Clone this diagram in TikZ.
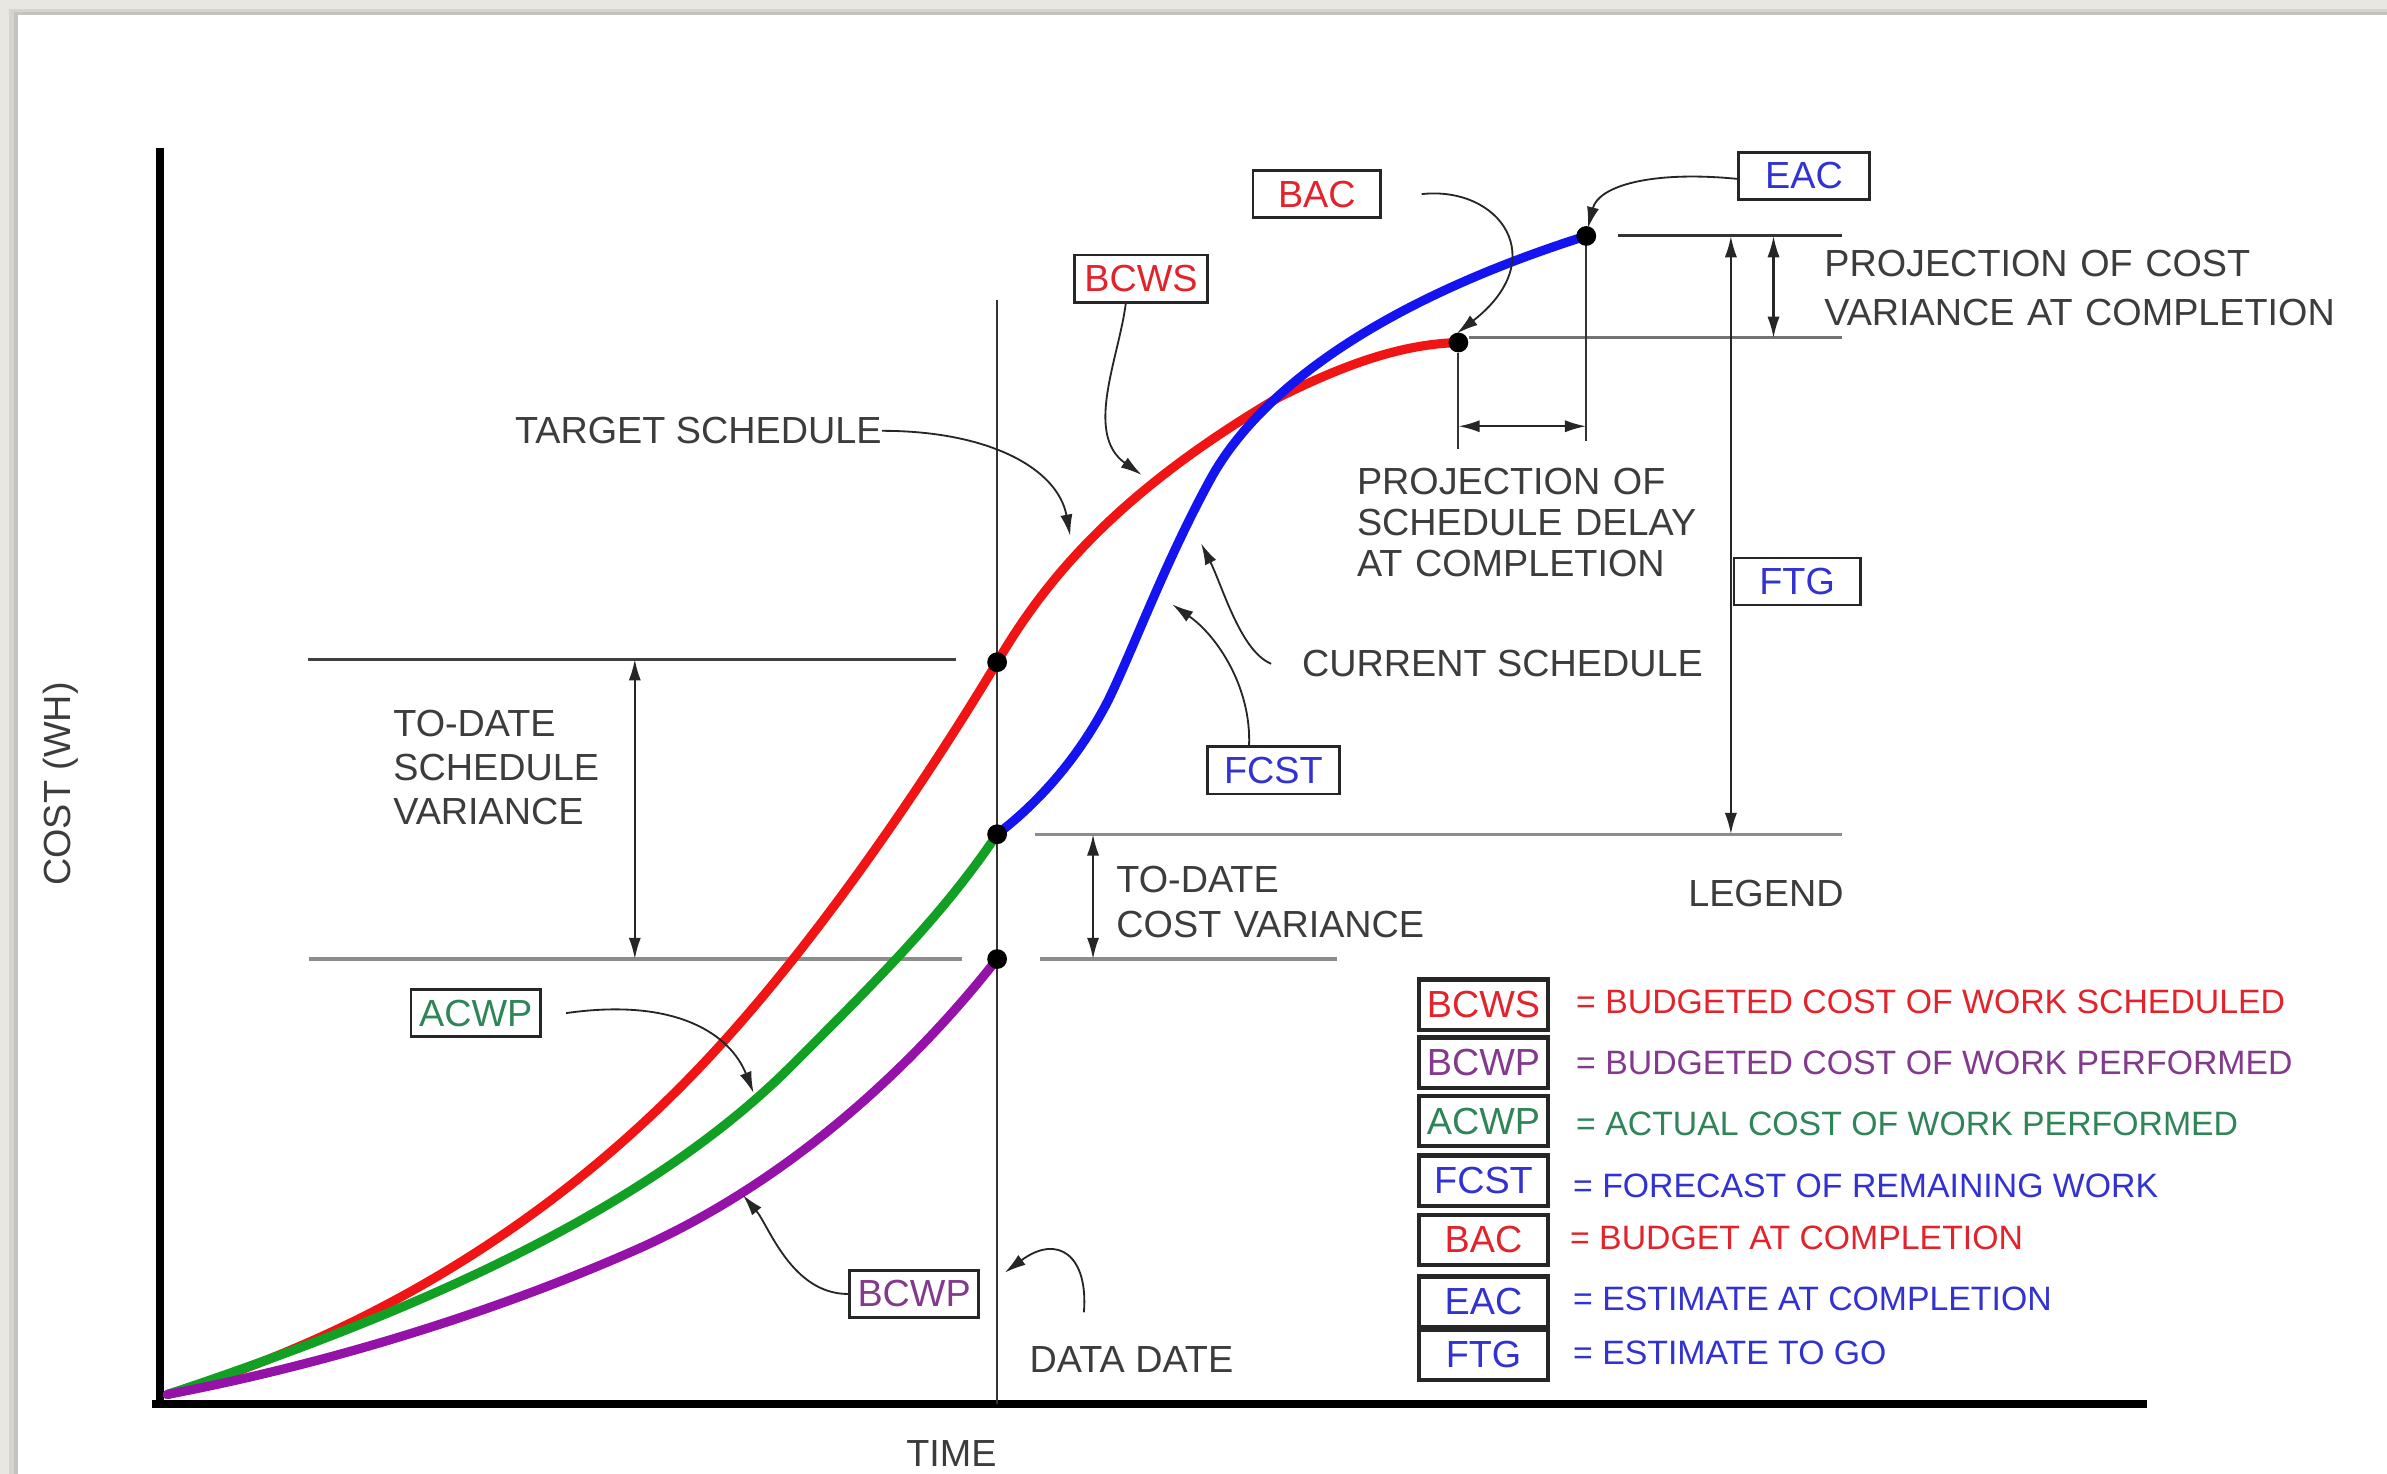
\documentclass[tikz,border=0pt]{standalone}
\usepackage{fontspec}
\newfontfamily\arial{Liberation Sans}
\usetikzlibrary{arrows.meta,calc}
\definecolor{txtgray}{HTML}{3C3C3C}
\definecolor{bggray}{HTML}{E9E7E2}
\definecolor{cred}{HTML}{F01414}
\definecolor{cblue}{HTML}{1414F0}
\definecolor{cgreen}{HTML}{12A024}
\definecolor{cpurple}{HTML}{9412A8}
\definecolor{tred}{HTML}{E2232B}
\definecolor{tblue}{HTML}{3232D2}
\definecolor{tgreen}{HTML}{2F8558}
\definecolor{tpurple}{HTML}{833A8C}
\newcommand\chartfs{\fontsize{12.4}{14.5}\selectfont}
\newcommand\legfs{\fontsize{11.1}{13}\selectfont}
\begin{document}
\begin{tikzpicture}[x=0.5pt,y=-0.5pt,
  txt/.style={font=\arial\chartfs, text=txtgray, inner sep=0pt},
  legtxt/.style={font=\arial\legfs, inner sep=0pt, anchor=west},
  tag/.style={draw=black!85, line width=0.9pt, font=\arial\chartfs, minimum height=15.5pt, inner sep=0pt, fill=white},
  legbox/.style={draw=black!85, line width=1.4pt, font=\arial\chartfs, minimum width=42.5pt, minimum height=16.5pt, inner sep=0pt, fill=white},
  curve/.style={line width=3pt, line cap=round, line join=round},
  thinline/.style={line width=0.7pt, draw=black!80},
  grayline/.style={line width=1.1pt, draw=black!45},
  ptr/.style={line width=0.6pt, draw=black!85, -{Latex[length=7pt,width=4pt]}},
  dim/.style={line width=0.7pt, draw=black!85, {Latex[length=7pt,width=4pt]}-{Latex[length=7pt,width=4pt]}},
  dot/.style={circle, fill=black, inner sep=0pt, minimum size=6.5pt}
]
\useasboundingbox (0,0) rectangle (1568,968);
% background panel
\fill[bggray] (0,0) rectangle (1568,968);
\fill[black, opacity=0.08] (6,6) rectangle (1568,968);
\fill[black, opacity=0.08] (9,8) rectangle (1568,968);
\fill[white] (12,10) rectangle (1568,968);

% axes
\coordinate (ytop) at (105,97);
\coordinate (O) at (105,922);
\coordinate (xend) at (1410,922);
\draw[line width=2.6pt] (ytop) -- ($(O)+(0,2.5)$);
\draw[line width=2.6pt] ($(O)+(-5,0)$) -- (xend);
\node[txt, rotate=90] (costlbl) at (40,515) {COST (WH)};
\node[txt] (timelbl) at (625,955) {TIME};

% data date line
\coordinate (ddtop) at (655,197);
\coordinate (ddbot) at (655,922);
\draw[thinline] (ddtop) -- (ddbot);

% horizontal reference lines
\coordinate (l1a) at (202,433); \coordinate (l1b) at (628,433);
\coordinate (l2a) at (203,630); \coordinate (l2b) at (632,630);
\coordinate (l3a) at (680,548); \coordinate (l3b) at (1210,548);
\coordinate (l4a) at (683,630); \coordinate (l4b) at (878,630);
\coordinate (l5a) at (1063,155); \coordinate (l5b) at (1210,155);
\coordinate (l6a) at (965,222); \coordinate (l6b) at (1210,222);
\draw[line width=1pt, draw=black!75] (l1a) -- (l1b);
\draw[grayline] (l2a) -- (l2b);
\draw[grayline] (l3a) -- (l3b);
\draw[grayline] (l4a) -- (l4b);
\draw[line width=1pt, draw=black!80] (l5a) -- (l5b);
\draw[line width=1pt, draw=black!55] (l6a) -- (l6b);
\coordinate (v1a) at (958,232); \coordinate (v1b) at (958,295);
\coordinate (v2a) at (1042,160); \coordinate (v2b) at (1042,290);
\draw[thinline] (v1a) -- (v1b);
\draw[thinline] (v2a) -- (v2b);

% dimension arrows
\coordinate (d1a) at (417,433); \coordinate (d1b) at (417,630);
\coordinate (d2a) at (718,548); \coordinate (d2b) at (718,630);
\coordinate (d3a) at (1165,155); \coordinate (d3b) at (1165,222);
\coordinate (d4a) at (1137,155); \coordinate (d4b) at (1137,548);
\coordinate (d5a) at (958,280); \coordinate (d5b) at (1042,280);
\draw[dim] (d1a) -- (d1b);
\draw[dim] (d2a) -- (d2b);
\draw[dim] (d3a) -- (d3b);
\draw[dim] (d4a) -- (d4b);
\draw[dim] (d5a) -- (d5b);

% curve points
\coordinate (start) at (110,916);
\coordinate (cBCWS) at (655,435);
\coordinate (cACWP) at (655,548);
\coordinate (cBCWP) at (655,630);
\coordinate (cBAC) at (958,225);
\coordinate (cEAC) at (1042,155);

% curves
\draw[curve, cred] (start) .. controls (230,880) and (360,810) .. (470,690)
  .. controls (540,614) and (610,510) .. (cBCWS)
  .. controls (690,375) and (740,320) .. (840,261)
  .. controls (890,236) and (925,226) .. (cBAC);
\draw[curve, cgreen] (start) .. controls (260,866) and (420,800) .. (520,700)
  .. controls (580,640) and (620,600) .. (cACWP);
\draw[curve, cpurple] (start) .. controls (220,895) and (330,860) .. (420,820)
  .. controls (520,775) and (600,700) .. (cBCWP);
\draw[curve, cblue] (cACWP) .. controls (685,525) and (710,495) .. (728,460)
  .. controls (745,425) and (765,370) .. (795,315)
  .. controls (825,260) and (900,200) .. (cEAC);

% dots
\node[dot] (pBCWS) at (cBCWS) {};
\node[dot] (pACWP) at (cACWP) {};
\node[dot] (pBCWP) at (cBCWP) {};
\node[dot] (pBAC) at (cBAC) {};
\node[dot] (pEAC) at (cEAC) {};

% text labels
\node[txt, anchor=west] (target) at (338,283) {TARGET SCHEDULE};
\node[txt, anchor=west, align=left, text width=80pt] (sv) at (258,504) {TO-DATE\\SCHEDULE\\VARIANCE};
\node[txt, anchor=west, align=left, text width=110pt] (cv) at (733,592.5) {TO-DATE\\COST VARIANCE};
\node[txt, anchor=west, align=left, text width=200pt, font=\arial\fontsize{12.4}{16}\selectfont] (pcv) at (1198,189) {PROJECTION OF COST\\VARIANCE AT COMPLETION};
\node[txt, anchor=west, align=left, text width=130pt, font=\arial\fontsize{12.4}{13.5}\selectfont] (psd) at (891,343) {PROJECTION OF\\SCHEDULE DELAY\\AT COMPLETION};
\node[txt, anchor=west] (cur) at (855,436) {CURRENT SCHEDULE};
\node[txt, anchor=west] (ddate) at (676,893) {DATA DATE};
\node[txt] (legend) at (1160,587) {LEGEND};

% tags in chart
\node[tag, minimum width=42pt, text=tred] (tBAC) at (865,127.5) {BAC};
\node[tag, minimum width=43pt, text=tblue] (tEAC) at (1185,115.5) {EAC};
\node[tag, minimum width=43.5pt, text=tred] (tBCWS) at (749.5,183) {BCWS};
\node[tag, minimum width=41.5pt, text=tblue] (tFTG) at (1180.5,382) {FTG};
\node[tag, minimum width=43.5pt, text=tblue] (tFCST) at (836.5,506) {FCST};
\node[tag, minimum width=42.5pt, text=tgreen] (tACWP) at (312.5,665.5) {ACWP};
\node[tag, minimum width=42.5pt, text=tpurple] (tBCWP) at (600.5,850) {BCWP};

% pointer targets
\coordinate (aTarget) at (703,352);
\coordinate (aBCWS) at (750,312);
\coordinate (aBAC) at (957,219);
\coordinate (aEAC) at (1043,150);
\coordinate (aCur) at (789,357);
\coordinate (aFCST) at (770,397);
\coordinate (aACWP) at (495,718);
\coordinate (aBCWP) at (488,785);
\coordinate (aDD) at (660,836);
\coordinate (sDD) at (712,862);

% pointers
\draw[ptr] (target.east) .. controls (650,283) and (695,308) .. (aTarget);
\draw[ptr] ([xshift=-5]tBCWS.south) .. controls (735,235) and (712,285) .. (aBCWS);
\draw[ptr] ([xshift=13]tBAC.east) .. controls (985,122) and (1020,170) .. (aBAC);
\draw[ptr] ([yshift=-1]tEAC.west) .. controls (1085,112) and (1050,122) .. (aEAC);
\draw[ptr] ([xshift=-10]cur.west) .. controls (815,428) and (803,385) .. (aCur);
\draw[ptr] ([xshift=-8]tFCST.north) .. controls (822,452) and (800,418) .. (aFCST);
\draw[ptr] ([xshift=8]tACWP.east) .. controls (445,655) and (480,680) .. (aACWP);
\draw[ptr] (tBCWP.west) .. controls (520,850) and (505,805) .. (aBCWP);
\draw[ptr] (sDD) .. controls (715,825) and (695,810) .. (aDD);

% legend
\node[legbox, text=tred] (lBCWS) at (974.5,660) {BCWS};
\node[legbox, text=tpurple] (lBCWP) at (974.5,698) {BCWP};
\node[legbox, text=tgreen] (lACWP) at (974.5,736.5) {ACWP};
\node[legbox, text=tblue] (lFCST) at (974.5,775.5) {FCST};
\node[legbox, text=tred] (lBAC) at (974.5,814.5) {BAC};
\node[legbox, text=tblue] (lEAC) at (974.5,855) {EAC};
\node[legbox, text=tblue] (lFTG) at (974.5,890) {FTG};
\node[legtxt, text=tred] (dBCWS) at (1035,658) {= BUDGETED COST OF WORK SCHEDULED};
\node[legtxt, text=tpurple] (dBCWP) at (1035,698) {= BUDGETED COST OF WORK PERFORMED};
\node[legtxt, text=tgreen] (dACWP) at (1035,738) {= ACTUAL COST OF WORK PERFORMED};
\node[legtxt, text=tblue] (dFCST) at (1033,779) {= FORECAST OF REMAINING WORK};
\node[legtxt, text=tred] (dBAC) at (1031,813) {= BUDGET AT COMPLETION};
\node[legtxt, text=tblue] (dEAC) at (1033,853) {= ESTIMATE AT COMPLETION};
\node[legtxt, text=tblue] (dFTG) at (1033,889) {= ESTIMATE TO GO};
\end{tikzpicture}
\end{document}
